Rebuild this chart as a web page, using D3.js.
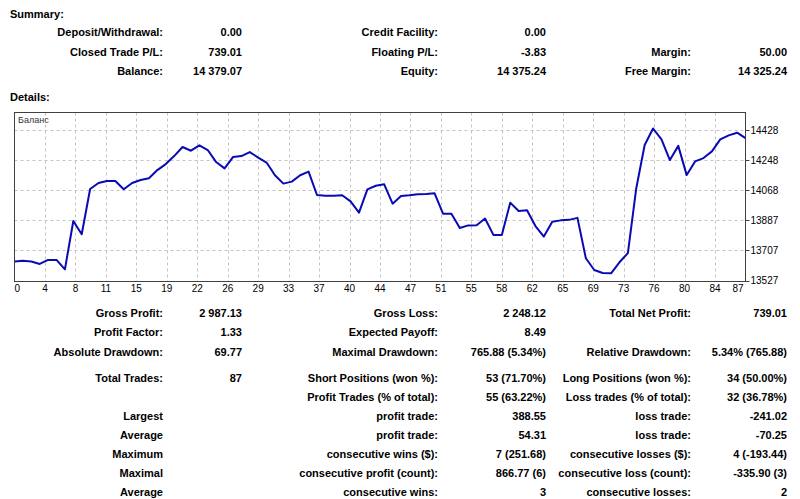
<!DOCTYPE html>
<html>
<head>
<meta charset="utf-8">
<script src="https://cdn.jsdelivr.net/npm/d3@7"></script>
<style>
  body { margin: 0; background: #fff; }
  svg { display: block; }
  .b { font-family: "Liberation Sans", Arial, sans-serif; font-weight: bold; font-size: 11px; fill: #000; }
  .ax { font-family: "Liberation Sans", Arial, sans-serif; font-size: 10px; fill: #000; }
</style>
</head>
<body>
<div id="chart"></div>
<script>
// balance after each trade, 0 = initial deposit
const balance = [
  13640.06, 13645, 13641, 13626, 13650, 13650, 13594, 13883, 13804, 14075,
  14111, 14123, 14123, 14073, 14111, 14129, 14139, 14188, 14224, 14272,
  14326, 14304, 14336.17, 14308, 14236, 14198, 14266, 14272, 14296, 14263,
  14233, 14157, 14107, 14119, 14157, 14179, 14039, 14034, 14034, 14037,
  14001, 13933, 14073, 14094, 14103, 13987, 14033, 14037, 14043, 14045,
  14049, 13927, 13927, 13841, 13857, 13858, 13898, 13800, 13799, 13993,
  13943, 13947, 13853, 13790, 13879, 13887, 13890, 13902, 13660, 13590,
  13572, 13570.29, 13636, 13691, 14079.5, 14338, 14437, 14372, 14248, 14333,
  14158, 14240, 14260, 14300, 14372, 14396, 14412, 14379.07
];
const yTicks = [13527, 13707, 13887, 14068, 14248, 14428];
const xTickLabels = [0, 4, 8, 11, 15, 19, 22, 26, 29, 33, 37, 40, 44, 47, 51, 55, 58, 62, 65, 69, 73, 76, 80, 84, 87];

const summaryRows = [
  ["Deposit/Withdrawal:", "0.00", "Credit Facility:", "0.00", "", ""],
  ["Closed Trade P/L:", "739.01", "Floating P/L:", "-3.83", "Margin:", "50.00"],
  ["Balance:", "14 379.07", "Equity:", "14 375.24", "Free Margin:", "14 325.24"]
];
const detailRows = [
  ["Gross Profit:", "2 987.13", "Gross Loss:", "2 248.12", "Total Net Profit:", "739.01"],
  ["Profit Factor:", "1.33", "Expected Payoff:", "8.49", "", ""],
  ["Absolute Drawdown:", "69.77", "Maximal Drawdown:", "765.88 (5.34%)", "Relative Drawdown:", "5.34% (765.88)"],
  ["Total Trades:", "87", "Short Positions (won %):", "53 (71.70%)", "Long Positions (won %):", "34 (50.00%)"],
  ["", "", "Profit Trades (% of total):", "55 (63.22%)", "Loss trades (% of total):", "32 (36.78%)"],
  ["Largest", "", "profit trade:", "388.55", "loss trade:", "-241.02"],
  ["Average", "", "profit trade:", "54.31", "loss trade:", "-70.25"],
  ["Maximum", "", "consecutive wins ($):", "7 (251.68)", "consecutive losses ($):", "4 (-193.44)"],
  ["Maximal", "", "consecutive profit (count):", "866.77 (6)", "consecutive loss (count):", "-335.90 (3)"],
  ["Average", "", "consecutive wins:", "3", "consecutive losses:", "2"]
];

const width = 800, height = 499;
const svg = d3.select("#chart").append("svg")
  .attr("width", width)
  .attr("height", height);

// table text
const colRight = [163, 242, 438, 546, 691, 787];
const summaryY = [36, 55.5, 74.5];
const detailY = [317, 336, 355.5, 381.5, 400.5, 420, 439, 458, 476.5, 495.5];

function rows(data, ys) {
  data.forEach((r, i) => {
    r.forEach((t, j) => {
      if (!t) return;
      svg.append("text").attr("class", "b")
        .attr("x", colRight[j]).attr("y", ys[i])
        .attr("text-anchor", "end").text(t);
    });
  });
}

svg.append("text").attr("class", "b").attr("x", 10).attr("y", 18).text("Summary:");
svg.append("text").attr("class", "b").attr("x", 10).attr("y", 100.5).text("Details:");
rows(summaryRows, summaryY);
rows(detailRows, detailY);

// chart
const pLeft = 14.5, pRight = 745.5, pTop = 112.5, pBottom = 281.5;

const x = d3.scaleLinear()
  .domain([0, balance.length - 1])
  .range([pLeft, pRight]);

const y = d3.scaleLinear()
  .domain([13527, 14428])
  .range([280.5, 130]);

const g = svg.append("g");

// grid
const gridX = xTickLabels.map((_, k) => x(k * (balance.length - 1) / (xTickLabels.length - 1)));

g.append("g")
  .selectAll("line")
  .data(gridX.slice(1, -1))
  .join("line")
    .attr("x1", d => Math.round(d) + 0.5).attr("x2", d => Math.round(d) + 0.5)
    .attr("y1", pTop).attr("y2", pBottom)
    .attr("stroke", "#c4c4c4")
    .attr("stroke-dasharray", "3,3");

g.append("g")
  .selectAll("line")
  .data(yTicks)
  .join("line")
    .attr("x1", pLeft).attr("x2", pRight)
    .attr("y1", d => Math.round(y(d)) + 0.5).attr("y2", d => Math.round(y(d)) + 0.5)
    .attr("stroke", "#c4c4c4")
    .attr("stroke-dasharray", "3,3");

// balance line
g.append("path")
  .datum(balance)
  .attr("fill", "none")
  .attr("stroke", "#0a0ab4")
  .attr("stroke-width", 2)
  .attr("stroke-linejoin", "round")
  .attr("d", d3.line().x((d, i) => x(i)).y(d => y(d)));

// frame
g.append("rect")
  .attr("x", pLeft).attr("y", pTop)
  .attr("width", pRight - pLeft).attr("height", pBottom - pTop)
  .attr("fill", "none")
  .attr("stroke", "#404040");

// right axis ticks and labels
g.append("g")
  .selectAll("line")
  .data(yTicks)
  .join("line")
    .attr("x1", pRight).attr("x2", pRight + 4)
    .attr("y1", d => Math.round(y(d)) + 0.5).attr("y2", d => Math.round(y(d)) + 0.5)
    .attr("stroke", "#404040");

g.append("g")
  .selectAll("text")
  .data(yTicks)
  .join("text")
    .attr("class", "ax")
    .attr("x", pRight + 5)
    .attr("y", d => y(d))
    .attr("dy", "0.35em")
    .text(d => d);

g.append("g")
  .selectAll("text")
  .data(xTickLabels)
  .join("text")
    .attr("class", "ax")
    .attr("x", (d, k) => k === 0 ? pLeft : k === xTickLabels.length - 1 ? pRight - 2 : gridX[k])
    .attr("y", 292)
    .attr("text-anchor", (d, k) => k === 0 ? "start" : k === xTickLabels.length - 1 ? "end" : "middle")
    .text(d => d);

g.append("text")
  .attr("x", 18).attr("y", 123)
  .attr("font-family", "Liberation Sans, Arial, sans-serif")
  .attr("font-size", 9)
  .attr("fill", "#333")
  .text("Баланс");
</script>
</body>
</html>
